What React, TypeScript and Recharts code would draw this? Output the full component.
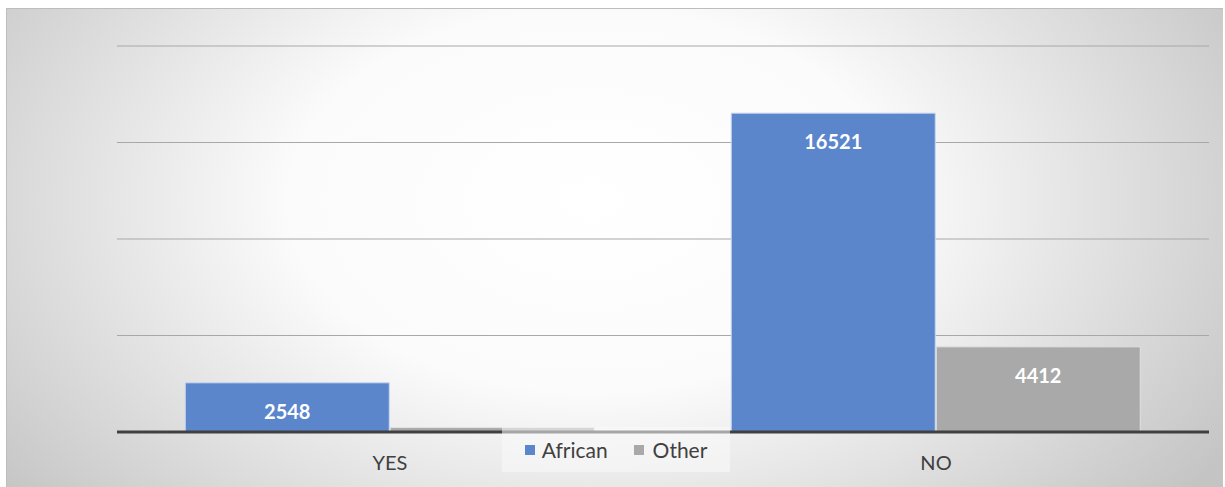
import React from 'react';
import {BarChart, Bar, XAxis, YAxis, CartesianGrid, LabelList} from 'recharts';

const categories = ['YES', 'NO'];
const african = [2548, 16521];
const other = [230, 4412];
const yTicks = [0, 5000, 10000, 15000, 20000];

const data = categories.map((name, i) => ({name, African: african[i], Other: other[i]}));

const FONT = 'Lato, "Open Sans", sans-serif';

const renderLabel = (props: any) => {
  const {x, y, width, value} = props;
  if (value < 1000) return null;
  return (
    <text
      x={x + width / 2}
      y={y + 36}
      textAnchor="middle"
      fill="#ffffff"
      fontWeight="bold"
      fontSize={20}
      fontFamily={FONT}
    >
      {value}
    </text>
  );
};

function ChartLegend() {
  return (
    <div
      style={{
        position: 'absolute',
        left: 502,
        top: 427,
        width: 228,
        height: 45,
        background: 'rgba(250,250,250,0.55)',
        display: 'flex',
        alignItems: 'center',
        justifyContent: 'center',
        fontFamily: FONT,
        fontSize: 21,
        color: '#404040',
      }}
    >
      <span style={{width: 10, height: 10, background: '#5b86cc', marginRight: 7}} />
      <span style={{marginRight: 26}}>African</span>
      <span style={{width: 10, height: 10, background: '#a9a9a9', marginRight: 9}} />
      <span>Other</span>
    </div>
  );
}

export default function App() {
  return (
    <div style={{position: 'absolute', left: 0, top: 0, width: 1225, height: 487, background: '#fff'}}>
      <div
        style={{
          position: 'absolute',
          left: 6,
          top: 8,
          width: 1216,
          height: 479,
          borderTop: '1px solid #bdbdbd',
          borderLeft: '1px solid #bdbdbd',
          background:
            'radial-gradient(ellipse 62% 100% at 48% 40%, #ffffff 0%, #fbfbfb 40%, #c4c4c4 100%)',
        }}
      />
      <div style={{position: 'absolute', left: 0, top: 0}}>
        <BarChart
          width={1225}
          height={487}
          data={data}
          margin={{top: 46, right: 16, left: 117, bottom: 25}}
          barCategoryGap="12.5%"
          barGap={1}
        >
          <CartesianGrid vertical={false} stroke="#a8a8a8" strokeWidth={1} />
          <YAxis hide domain={[0, 20000]} ticks={yTicks} />
          <XAxis
            dataKey="name"
            height={30}
            axisLine={{stroke: '#404040', strokeWidth: 3}}
            tickLine={false}
            tickMargin={18}
            tick={{fill: '#404040', fontSize: 20, fontFamily: FONT}}
          />
          <Bar dataKey="African" fill="#5b86cc" stroke="#c9d6ee" strokeWidth={1} isAnimationActive={false}>
            <LabelList dataKey="African" content={renderLabel} />
          </Bar>
          <Bar dataKey="Other" fill="#a9a9a9" stroke="#e2e2e2" strokeWidth={1} isAnimationActive={false}>
            <LabelList dataKey="Other" content={renderLabel} />
          </Bar>
        </BarChart>
      </div>
      <ChartLegend />
    </div>
  );
}
